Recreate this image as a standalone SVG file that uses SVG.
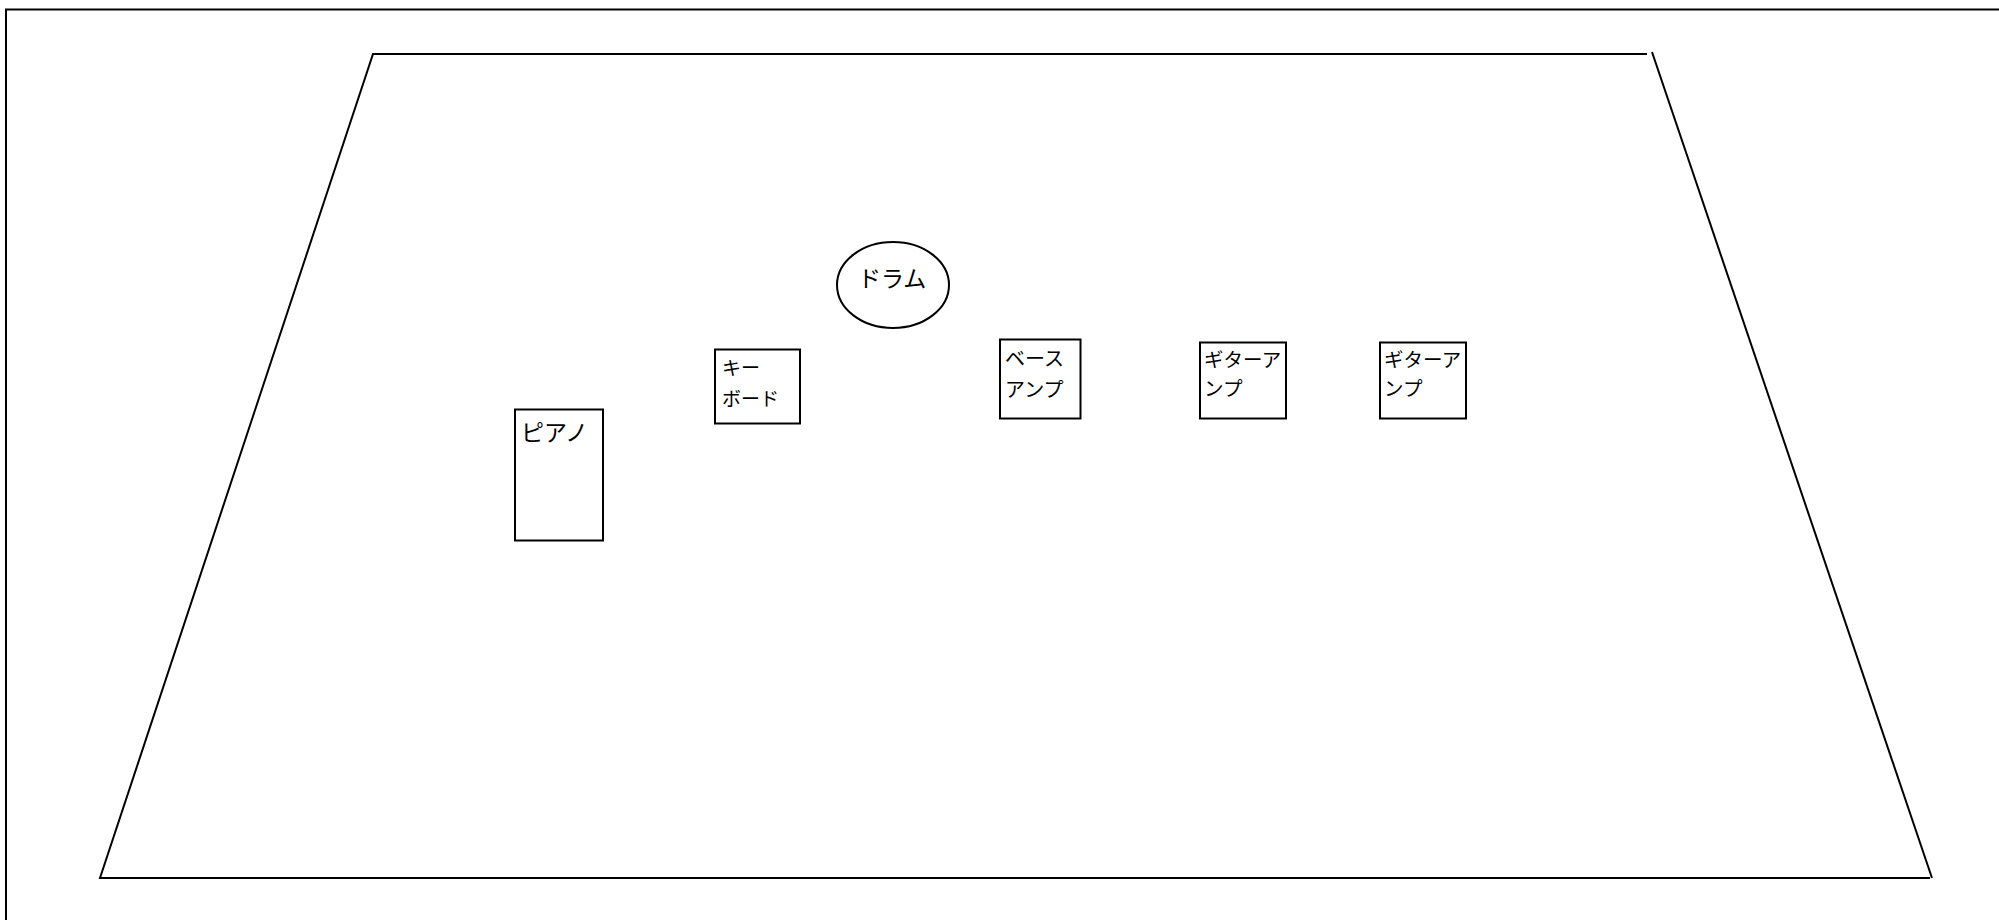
<svg xmlns="http://www.w3.org/2000/svg" width="1999" height="920" viewBox="0 0 1999 920">
<style>
.ln{fill:none;stroke:#000;stroke-width:2;stroke-linecap:butt}
.nd{fill:#fff;stroke:#000;stroke-width:2}
.t{font-family:"Noto Sans CJK JP","Noto Sans CJK SC",sans-serif;fill:#000}
.big{font-size:23px}
.sm{font-size:20px}
.gt{font-size:19.5px}
</style>
<rect width="1999" height="920" fill="#fff"/>
<g id="frame">
<rect x="6" y="9.5" width="2100" height="1000" class="ln"/>
</g>
<g id="stage">
<polyline class="ln" points="1647,54 373,54 100,878 1930,878"/>
<line class="ln" x1="1652" y1="52" x2="1932" y2="878"/>
</g>
<g id="connectors"></g>
<g id="piano">
<rect class="nd" x="515" y="409.5" width="88" height="131"/>
<text class="t big" x="521" y="441">ピアノ</text>
</g>
<g id="keyboard">
<rect class="nd" x="715" y="349.5" width="85" height="74"/>
<text class="t" style="font-size:19px"><tspan x="722" y="375">キー</tspan><tspan x="722" y="406">ボード</tspan></text>
</g>
<g id="drum">
<ellipse class="nd" cx="893" cy="285" rx="56" ry="43"/>
<text class="t big" x="858" y="287">ドラム</text>
</g>
<g id="bass-amp">
<rect class="nd" x="1000" y="339.5" width="80.5" height="79"/>
<text class="t sm"><tspan x="1005" y="366">ベース</tspan><tspan x="1005" y="397">アンプ</tspan></text>
</g>
<g id="guitar-amp-1">
<rect class="nd" x="1200" y="342.5" width="86" height="76"/>
<text class="t gt"><tspan x="1204" y="367">ギターア</tspan><tspan x="1204" y="396">ンプ</tspan></text>
</g>
<g id="guitar-amp-2">
<rect class="nd" x="1380" y="342.5" width="86" height="76"/>
<text class="t gt"><tspan x="1384" y="367">ギターア</tspan><tspan x="1384" y="396">ンプ</tspan></text>
</g>
</svg>
